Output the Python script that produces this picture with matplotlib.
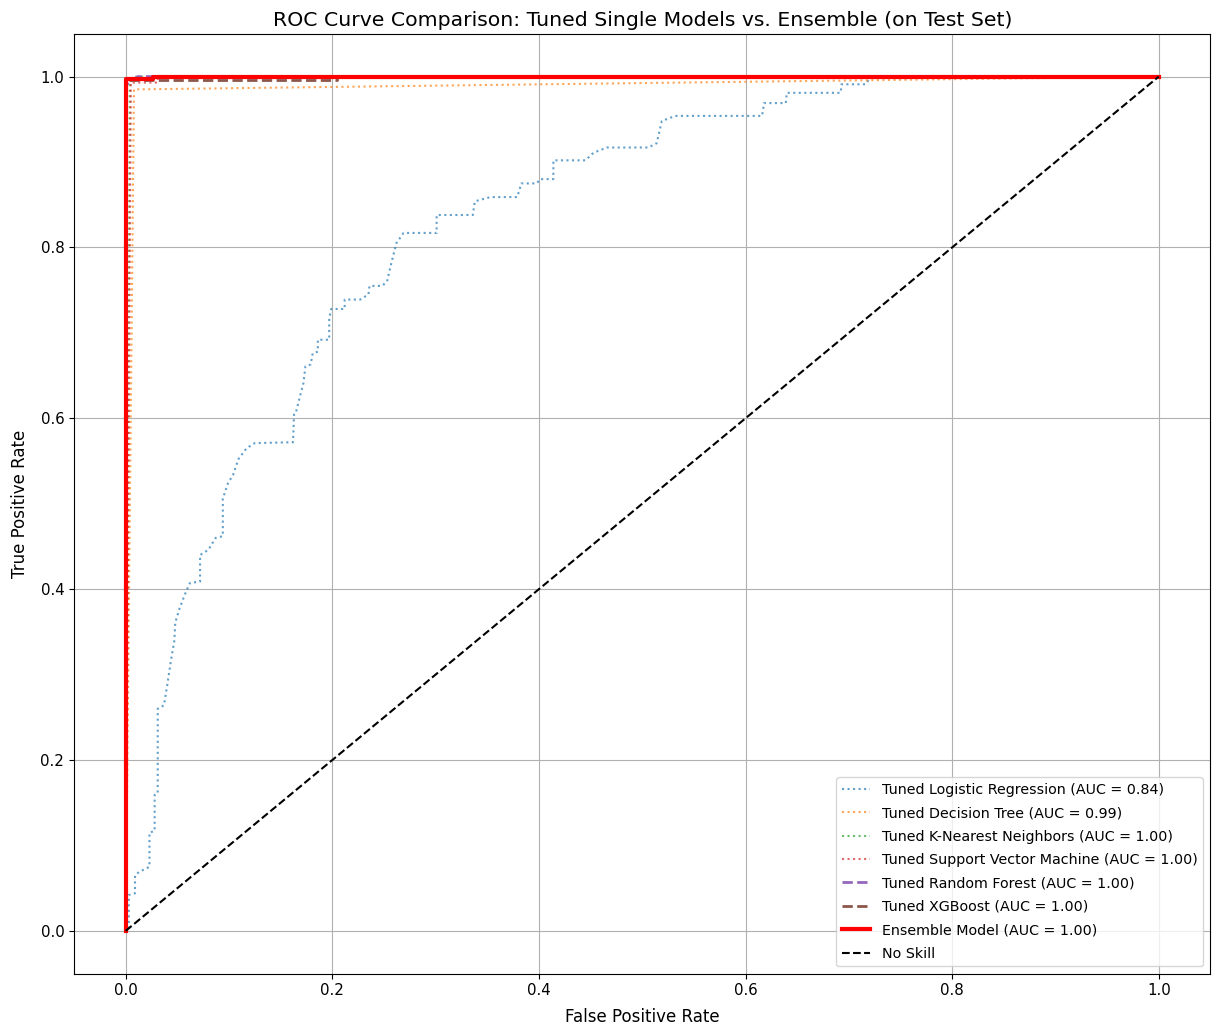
import matplotlib
matplotlib.use("Agg")
import matplotlib.pyplot as plt

# ROC points
lr_fpr = [0, 0.003, 0.003, 0.009, 0.009, 0.013, 0.023, 0.023, 0.028, 0.028, 0.031, 0.031,
          0.037, 0.040, 0.044, 0.047, 0.048, 0.052, 0.057, 0.062, 0.072, 0.072, 0.080, 0.087,
          0.094, 0.094, 0.099, 0.104, 0.109, 0.117, 0.125, 0.162, 0.163, 0.165, 0.169, 0.172,
          0.174, 0.179, 0.181, 0.186, 0.186, 0.197, 0.197, 0.199, 0.212, 0.212, 0.227, 0.235,
          0.236, 0.248, 0.253, 0.256, 0.262, 0.269, 0.301, 0.301, 0.336, 0.338, 0.353, 0.379,
          0.383, 0.398, 0.401, 0.414, 0.414, 0.445, 0.453, 0.466, 0.506, 0.514, 0.519, 0.532,
          0.616, 0.618, 0.639, 0.640, 0.692, 0.693, 0.716, 0.720, 0.725, 1.0]
lr_tpr = [0, 0, 0.042, 0.044, 0.065, 0.069, 0.075, 0.115, 0.117, 0.159, 0.161, 0.260,
          0.264, 0.286, 0.318, 0.339, 0.361, 0.377, 0.393, 0.407, 0.409, 0.440, 0.446, 0.460,
          0.462, 0.506, 0.524, 0.534, 0.552, 0.565, 0.571, 0.572, 0.606, 0.608, 0.627, 0.641,
          0.661, 0.663, 0.676, 0.678, 0.692, 0.692, 0.717, 0.728, 0.728, 0.739, 0.739, 0.745,
          0.755, 0.755, 0.760, 0.776, 0.805, 0.817, 0.817, 0.838, 0.838, 0.854, 0.859, 0.859,
          0.875, 0.875, 0.880, 0.880, 0.902, 0.902, 0.911, 0.917, 0.917, 0.922, 0.948, 0.954,
          0.954, 0.969, 0.969, 0.981, 0.981, 0.991, 0.991, 0.997, 1.0, 1.0]

dt_fpr = [0, 0.008, 1.0]
dt_tpr = [0, 0.985, 1.0]

knn_fpr = [0, 0.004, 0.004, 0.010, 1.0]
knn_tpr = [0, 0.985, 0.990, 1.0, 1.0]

svm_fpr = [0, 0.005, 0.031, 0.031, 1.0]
svm_tpr = [0, 0.993, 0.993, 1.0, 1.0]

rf_fpr = [0, 0, 0.008, 0.012, 1.0]
rf_tpr = [0, 0.990, 0.997, 1.0, 1.0]

xgb_fpr = [0, 0, 0.205, 0.205, 1.0]
xgb_tpr = [0, 0.996, 0.996, 1.0, 1.0]

ens_fpr = [0, 0, 0.026, 0.026, 1.0]
ens_tpr = [0, 0.997, 0.997, 1.0, 1.0]

model_names = ["Tuned Logistic Regression", "Tuned Decision Tree", "Tuned K-Nearest Neighbors",
               "Tuned Support Vector Machine", "Tuned Random Forest", "Tuned XGBoost"]
model_aucs = [0.84, 0.99, 1.00, 1.00, 1.00, 1.00]
ensemble_auc = 1.00

curves = [(lr_fpr, lr_tpr), (dt_fpr, dt_tpr), (knn_fpr, knn_tpr),
          (svm_fpr, svm_tpr), (rf_fpr, rf_tpr), (xgb_fpr, xgb_tpr)]

fig = plt.figure(figsize=(12.14, 10.27), dpi=100)
ax = fig.add_axes([0.061, 0.052, 0.936, 0.915])

for i, (name, auc, (fpr, tpr)) in enumerate(zip(model_names, model_aucs, curves)):
    label = f"{name} (AUC = {auc:.2f})"
    if "Forest" in name or "XGBoost" in name:
        ax.plot(fpr, tpr, linestyle="--", lw=2, color=f"C{i}", label=label)
    else:
        ax.plot(fpr, tpr, linestyle=":", lw=1.5, alpha=0.7, color=f"C{i}", label=label)

ax.plot(ens_fpr, ens_tpr, color="red", lw=3, label=f"Ensemble Model (AUC = {ensemble_auc:.2f})")
ax.plot([0, 1], [0, 1], "k--", lw=1.5, label="No Skill")

ax.set_title("ROC Curve Comparison: Tuned Single Models vs. Ensemble (on Test Set)", fontsize=14.7)
ax.set_xlabel("False Positive Rate", fontsize=12, labelpad=7)
ax.set_ylabel("True Positive Rate", fontsize=12, labelpad=8)
ax.tick_params(labelsize=10.8)
ax.legend(loc="lower right", fontsize=10.3, labelspacing=0.66)
ax.grid(True)

fig.savefig("out.png", dpi=100)
